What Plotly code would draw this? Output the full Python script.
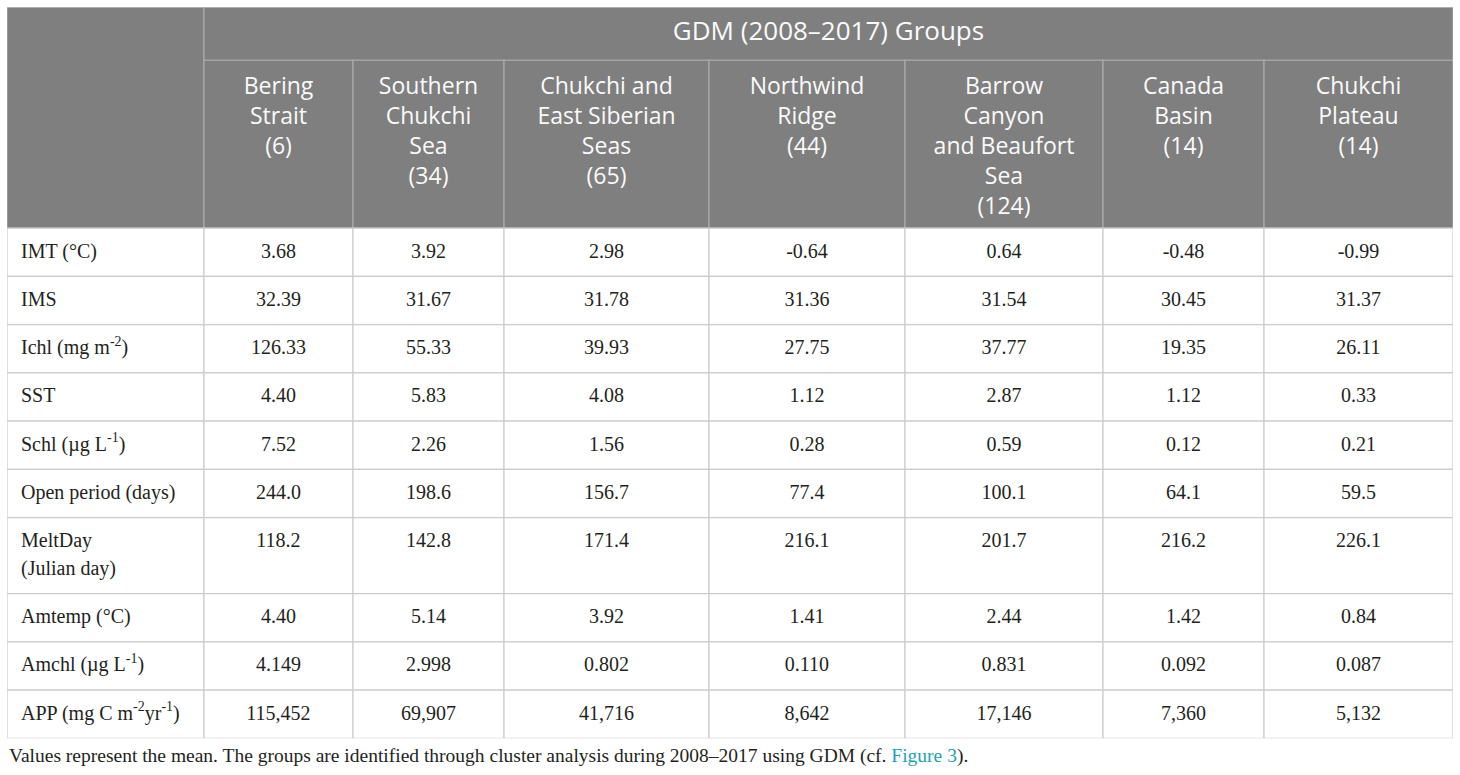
import plotly.graph_objects as go

# table content
group_title = 'GDM (2008–2017) Groups'
groups = ['Bering<br>Strait<br>(6)', 'Southern<br>Chukchi<br>Sea<br>(34)',
          'Chukchi and<br>East Siberian<br>Seas<br>(65)', 'Northwind<br>Ridge<br>(44)',
          'Barrow<br>Canyon<br>and Beaufort<br>Sea<br>(124)', 'Canada<br>Basin<br>(14)',
          'Chukchi<br>Plateau<br>(14)']
variables = ['IMT (°C)', 'IMS', 'Ichl (mg m<sup>-2</sup>)', 'SST', 'Schl (µg L<sup>-1</sup>)',
             'Open period (days)', 'MeltDay<br>(Julian day)', 'Amtemp (°C)',
             'Amchl (µg L<sup>-1</sup>)', 'APP (mg C m<sup>-2</sup>yr<sup>-1</sup>)']

bering = ['3.68', '32.39', '126.33', '4.40', '7.52', '244.0', '118.2', '4.40', '4.149', '115,452']
s_chukchi = ['3.92', '31.67', '55.33', '5.83', '2.26', '198.6', '142.8', '5.14', '2.998', '69,907']
chukchi_es = ['2.98', '31.78', '39.93', '4.08', '1.56', '156.7', '171.4', '3.92', '0.802', '41,716']
northwind = ['-0.64', '31.36', '27.75', '1.12', '0.28', '77.4', '216.1', '1.41', '0.110', '8,642']
barrow = ['0.64', '31.54', '37.77', '2.87', '0.59', '100.1', '201.7', '2.44', '0.831', '17,146']
canada = ['-0.48', '30.45', '19.35', '1.12', '0.12', '64.1', '216.2', '1.42', '0.092', '7,360']
plateau = ['-0.99', '31.37', '26.11', '0.33', '0.21', '59.5', '226.1', '0.84', '0.087', '5,132']
columns = [bering, s_chukchi, chukchi_es, northwind, barrow, canada, plateau]

footnote = ('Values represent the mean. The groups are identified through cluster analysis '
            'during 2008–2017 using GDM (cf. <span style="color:#1ba1b3">Figure 3</span>).')

# layout / style
W, H = 1460, 775
top_px, bot_px = 7.3, 738.3
hdr_fill = '#7f7f7f'
hdr_line = '#ababab'
body_line = '#cccccc'
hdr_font = 'Open Sans'
body_font = 'Liberation Serif'
txt_col = '#231f20'
colw = [197, 149, 151, 205, 196, 198, 161, 189]
title_h, group_h = 53, 168
body_h = [48.3] * len(variables)
body_h[6] = 76  # two-line MeltDay row

x_edges = [0]
for w in colw:
    x_edges.append(x_edges[-1] + w)
y_edges = [title_h + group_h]
for h in body_h:
    y_edges.append(y_edges[-1] + h)
total_w, total_h = x_edges[-1], y_edges[-1]

shapes = []


def cell(xa, xb, ya, yb, fill, line):
    shapes.append(dict(type='rect', xref='x', yref='y', x0=xa, x1=xb, y0=ya, y1=yb,
                       fillcolor=fill, line=dict(color=line, width=1.2), layer='below'))


# header cells (left one merged over both header rows)
cell(0, x_edges[1], 0, title_h + group_h, hdr_fill, hdr_line)
cell(x_edges[1], total_w, 0, title_h, hdr_fill, hdr_line)
for j in range(1, len(colw)):
    cell(x_edges[j], x_edges[j + 1], title_h, title_h + group_h, hdr_fill, hdr_line)
# body cells
for r in range(len(variables)):
    for j in range(len(colw)):
        cell(x_edges[j], x_edges[j + 1], y_edges[r], y_edges[r + 1], 'white', body_line)

# group header text blocks hang below their anchor
gx = [(x_edges[j + 1] + x_edges[j + 2]) / 2 for j in range(len(groups))]
gy = [title_h + 17] * len(groups)

lx, ly, lt = [], [], []
vx, vy, vt = [], [], []
for r, var in enumerate(variables):
    first = y_edges[r] + 24.6
    for i, line in enumerate(var.split('<br>')):
        lx.append(14)
        ly.append(first + i * 28)
        lt.append(line)
    for j, col in enumerate(columns):
        vx.append((x_edges[j + 1] + x_edges[j + 2]) / 2)
        vy.append(first)
        vt.append(col[r])

fig = go.Figure()
fig.add_trace(go.Scatter(x=[(x_edges[1] + total_w) / 2], y=[title_h / 2], text=[group_title],
                         mode='text', textposition='middle center',
                         textfont=dict(family=hdr_font, size=26, color='#fafafa'),
                         hoverinfo='skip', showlegend=False))
fig.add_trace(go.Scatter(x=gx, y=gy, text=groups, mode='text', textposition='bottom center',
                         textfont=dict(family=hdr_font, size=23, color='#fafafa'),
                         hoverinfo='skip', showlegend=False))
fig.add_trace(go.Scatter(x=lx, y=ly, text=lt, mode='text', textposition='middle right',
                         textfont=dict(family=body_font, size=20, color=txt_col),
                         hoverinfo='skip', showlegend=False))
fig.add_trace(go.Scatter(x=vx, y=vy, text=vt, mode='text', textposition='middle center',
                         textfont=dict(family=body_font, size=20, color=txt_col),
                         hoverinfo='skip', showlegend=False))

fig.add_annotation(x=7 / W, y=1 - 756 / H, xref='paper', yref='paper', xanchor='left', yanchor='middle',
                   text=footnote, showarrow=False,
                   font=dict(family=body_font, size=19.5, color=txt_col))

fig.update_layout(width=W, height=H, margin=dict(l=0, r=0, t=0, b=0),
                  paper_bgcolor='white', plot_bgcolor='white', shapes=shapes,
                  xaxis=dict(domain=[7 / W, 1453 / W], range=[0, total_w], visible=False, fixedrange=True),
                  yaxis=dict(domain=[1 - bot_px / H, 1 - top_px / H], range=[total_h, 0],
                             visible=False, fixedrange=True))
fig.write_html('out.html', config={'displayModeBar': False},
               post_script="document.body.style.margin = '0';")
